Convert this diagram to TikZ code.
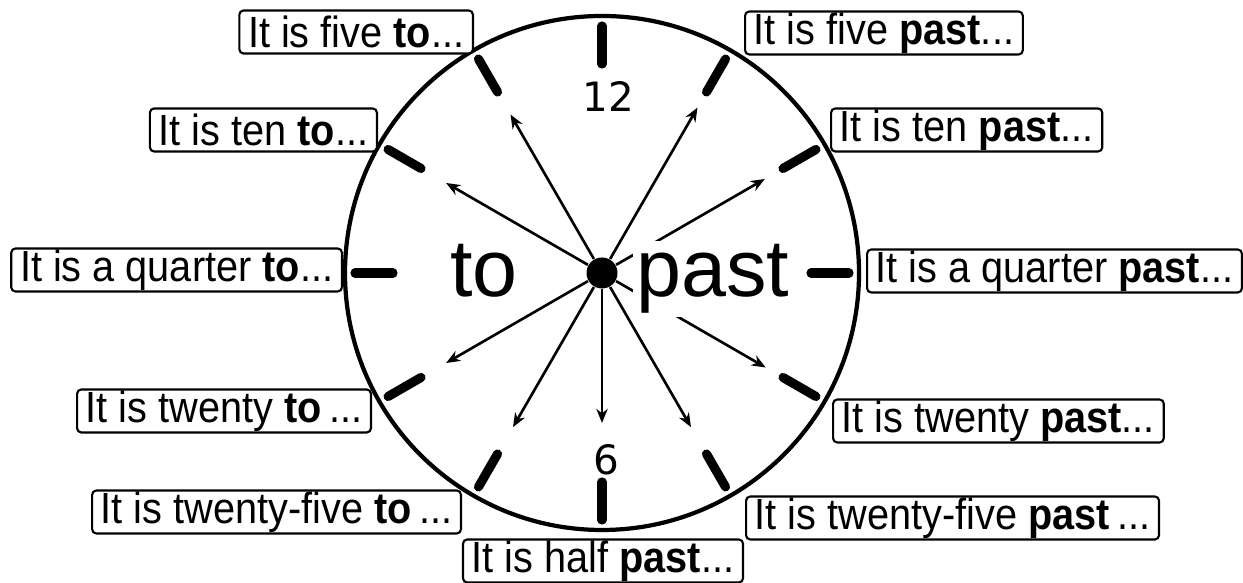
\documentclass[tikz,border=0pt]{standalone}
\usepackage{fontspec}
\setmainfont{Liberation Sans}
\newfontfamily\estrecha{Liberation Sans}[FakeStretch=0.91]
\newfontfamily\cifras{DejaVu Sans}
\usepackage{tikz}
\usetikzlibrary{arrows.meta,calc}
\tikzset{
  frase/.style={draw,line width=0.6pt,rounded corners=1.2pt,fill=white,
    inner xsep=2.5pt,inner ysep=0pt,minimum height=0.43cm,
    font=\estrecha\fontsize{12.4}{13}\selectfont},
  marca/.style={line width=2.6pt,line cap=round},
}

\begin{document}
\begin{tikzpicture}[x=0.01cm,y=0.01cm,>={Stealth[length=4pt,width=3.2pt]}]
  \useasboundingbox (0,0) rectangle (1243,583);
  \coordinate (O) at (602,310);

  % la esfera y las marcas
  \draw[line width=1.2pt] (O) circle (257);
  \foreach \h in {0,30,...,330}
    \draw[marca] ($(O)+(\h:209)$) -- ($(O)+(\h:247)$);
  \node[font=\cifras\fontsize{11.5}{12}\selectfont] (doce) at (608,486) {12};
  \node[font=\cifras\fontsize{11.5}{12}\selectfont] (seis) at (606,123) {6};

  % flechas desde el eje
  \node[circle,fill,inner sep=0pt,minimum size=0.31cm] (eje) at (O) {};
  \foreach \a/\r in {120/183,60/191,150/180,30/188,210/180,-30/189,240/178,-60/178,-90/150}
    \coordinate (p\a) at ($(O)+(\a:\r)$);
  \foreach \a in {120,60,150,30,210,-30,240,-60,-90}
    \draw[->,line width=0.75pt] (eje) -- (p\a);

  \node[anchor=base,font=\fontsize{23}{23}\selectfont] (to) at (484,286) {to};
  \node[anchor=base,fill=white,inner sep=1pt,font=\fontsize{23}{23}\selectfont] (past) at (713,286) {past};

  % frases de la izquierda
  \node[frase,anchor=east] (cincoMenos) at (474,551) {It is five \textbf{to}...};
  \node[frase,anchor=east] (diezMenos) at (378,453) {It is ten \textbf{to}...};
  \node[frase,anchor=east] (cuartoMenos) at (343,313) {It is a quarter \textbf{to}...};
  \node[frase,anchor=east] (veinteMenos) at (372,172) {It is twenty \textbf{to}\,...};
  \node[frase,anchor=east] (veinticincoMenos) at (462,71) {It is twenty-five \textbf{to}\,...};

  % frases de la derecha
  \node[frase,anchor=west] (cincoY) at (744,550) {It is five \textbf{past}...};
  \node[frase,anchor=west] (diezY) at (830,453) {It is ten \textbf{past}...};
  \node[frase,anchor=west] (cuartoY) at (866,312) {It is a quarter \textbf{past}...};
  \node[frase,anchor=west] (veinteY) at (832,162) {It is twenty \textbf{past}...};
  \node[frase,anchor=west] (veinticincoY) at (745,65) {It is twenty-five \textbf{past}\,...};
  \node[frase] (media) at (603,22) {It is half \textbf{past}...};
\end{tikzpicture}
\end{document}
